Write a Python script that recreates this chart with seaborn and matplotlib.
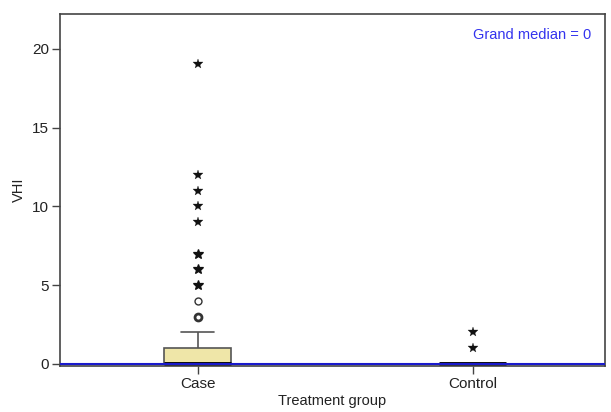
import numpy as np
import pandas as pd
import matplotlib
matplotlib.use("Agg")
import matplotlib.pyplot as plt
import seaborn as sns

# Valeurs (valeur VHI et nombre de sujets)
groups = ["Case", "Control"]
case_values = [0, 1, 2, 3, 4, 5, 6, 7, 9, 10, 11, 12, 19]
case_counts = [36, 16, 3, 2, 1, 2, 2, 2, 1, 1, 1, 1, 1]
control_values = [0, 1, 2]
control_counts = [40, 1, 1]
grand_median = 0

df = pd.DataFrame({
    "group": ["Case"] * sum(case_counts) + ["Control"] * sum(control_counts),
    "VHI": np.concatenate([np.repeat(case_values, case_counts),
                           np.repeat(control_values, control_counts)]),
})

sns.set_theme(style="white")
plt.rcParams["font.family"] = ["Liberation Sans", "DejaVu Sans"]

fig = plt.figure(figsize=(6.11, 4.12), dpi=100)
ax = fig.add_axes([0.098, 0.112, 0.892, 0.854])

sns.boxplot(data=df, x="group", y="VHI", order=groups, ax=ax,
            whis=1.5, width=0.245, showfliers=False, color="#efe6a8",
            linecolor="#555555", linewidth=1.2, saturation=1,
            medianprops={"color": "black", "linewidth": 3.5})

# Valeurs aberrantes : cercles (< 3 IQR) et étoiles (extrêmes)
for i, g in enumerate(groups):
    v = df.loc[df["group"] == g, "VHI"]
    q1, q3 = np.percentile(v, [25, 75])
    iqr = q3 - q1
    out = np.unique(v[v > q3 + 1.5 * iqr])
    for val in out:
        n = (v == val).sum()
        if val > q3 + 3 * iqr:
            ax.plot(i, val, marker="*", color="#111111", markersize=7,
                    markeredgewidth=0.2 if n == 1 else 0.9, linestyle="none")
        else:
            ax.plot(i, val, marker="o", mfc="white", mec="#333333", markersize=5,
                    markeredgewidth=1.0 if n == 1 else 2.0, linestyle="none")

ax.axhline(grand_median, color="#1a1acc", linewidth=1.5, zorder=5)
ax.text(0.975, 0.94, f"Grand median = {grand_median}", transform=ax.transAxes,
        ha="right", va="center", color="#3333ee", fontsize=10.5)

ax.set_xlim(-0.5, 1.48)
ax.set_ylim(-0.12, 22.2)
ax.set_yticks([0, 5, 10, 15, 20])
ax.set_xlabel("Treatment group", fontsize=10.5, color="#222222", labelpad=2)
ax.set_ylabel("VHI", fontsize=10.5, color="#222222")
ax.tick_params(axis="both", direction="out", length=6, width=1, color="#444444",
               labelsize=11, labelcolor="#222222", left=True, bottom=True, pad=2)
for s in ax.spines.values():
    s.set_color("#444444")
    s.set_linewidth(1.2)

fig.savefig("out.png", dpi=100)
